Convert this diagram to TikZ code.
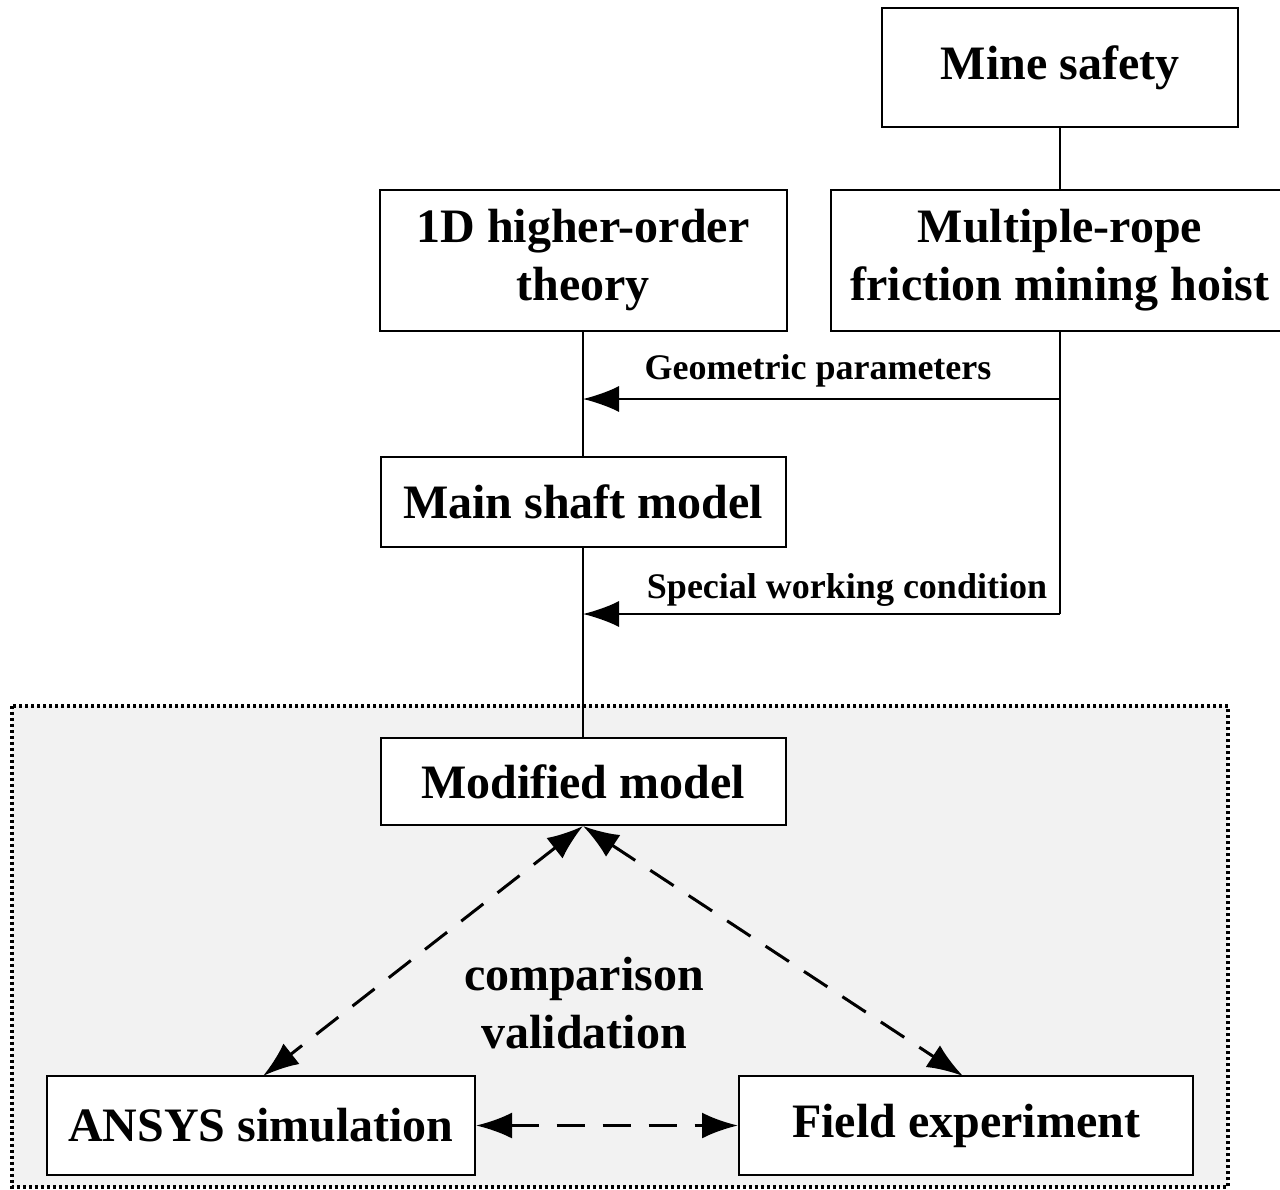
\documentclass[tikz,border=0pt]{standalone}
\usepackage{fontspec}
\setmainfont{Liberation Serif}
\usetikzlibrary{
  arrows.meta,
  positioning
}
\tikzset{
  % For the boxes of the flow.
  box/.style={
    draw,
    line width=1pt,
    fill=white,
    align=center,
    inner sep=0pt,
    font=\fontsize{24}{29}\selectfont\bfseries},
%
  % For plain connectors.
  link/.style={
    line width=1pt},
%
  % Solid arrow into the main line.
  feed/.style={
    line width=1pt,
    -{Latex[length=18pt,width=13pt]}},
%
  % Dashed two-way arrows of the validation loop.
  check/.style={
    line width=1.5pt,
    dash pattern=on 14pt off 9pt,
    {Latex[length=18pt,width=13pt]}-{Latex[length=18pt,width=13pt]}},
%
  % For labels on the arrows.
  tag/.style={
    font=\fontsize{18}{22}\selectfont\bfseries},
%
  % For the validation area.
  zone/.style={
    fill=black!5,
    line width=1.75pt,
    dash pattern=on 1.5pt off 1.5pt},
}

\begin{document}
\begin{tikzpicture}[x=0.5pt,y=-0.5pt]
  \clip (0,0) rectangle (1280,1189);

  % Validation area comes first, so the boxes sit on top of it.
  \draw[zone] (12,706) rectangle (1228,1187);

  \node[box, minimum width=178pt, minimum height=59.5pt] (mine) at (1060,67.5) {Mine safety};
  \node[box, minimum width=203.5pt, minimum height=70.5pt] (theory) at (583,260.5)
    {1D higher-order\\theory};
  \node[box, minimum width=229pt, minimum height=70.5pt] (hoist) at (1060,260.5)
    {Multiple-rope\\friction mining hoist};
  \node[box, minimum width=202.5pt, minimum height=45pt] (shaft) at (583,502) {Main shaft model};
  \node[box, minimum width=202.5pt, minimum height=43.5pt] (modified) at (583,781.5) {Modified model};
  \node[box, minimum width=214pt, minimum height=49.5pt] (ansys) at (261,1125.5) {ANSYS simulation};
  \node[box, minimum width=227pt, minimum height=49.5pt] (field) at (966,1125.5) {Field experiment};

  \coordinate (geo) at (1060,399);
  \coordinate (spec) at (1060,614);
  \coordinate (left top) at (263,1076);
  \coordinate (right top) at (963,1076);

  \draw[link] (mine) -- (hoist);
  \draw[link] (theory) -- (shaft);
  \draw[link] (shaft) -- (modified);
  \draw[link] (hoist.south) -- (spec);

  \draw[feed] (geo) -- (geo -| shaft.north);
  \draw[feed] (spec) -- (spec -| shaft.south);

  \node[tag] (geo label) at (818,371) {Geometric parameters};
  \node[tag] (spec label) at (847,590) {Special working condition};

  \draw[check] (modified.south) -- (left top);
  \draw[check] (modified.south) -- (right top);
  \draw[check] (ansys) -- (field);

  \node[box, draw=none, fill=none] (compare) at (584,1003) {comparison\\validation};
\end{tikzpicture}
\end{document}
